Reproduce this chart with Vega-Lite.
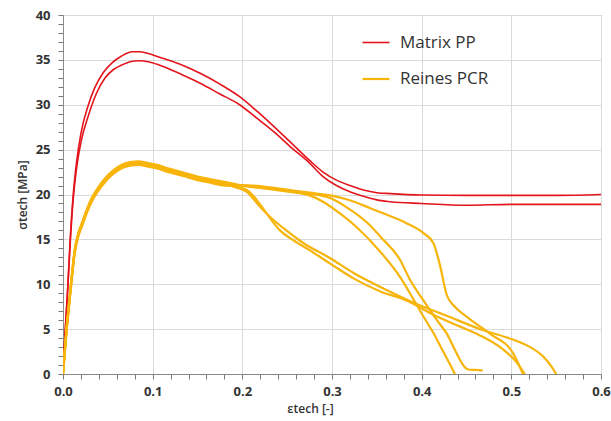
{
  "$schema": "https://vega.github.io/schema/vega-lite/v6.json",
  "width": 538,
  "height": 359,
  "autosize": {"type": "none"},
  "padding": {"left": 63, "top": 15, "right": 10, "bottom": 47},
  "background": "white",
  "config": {
    "view": {"stroke": "#8a8a8a", "strokeWidth": 1},
    "font": "Open Sans"
  },
  "data": {
    "values": [
      {"c": "R1", "g": "Matrix PP",
       "x": [0,0.002,0.005,0.008,0.011,0.015,0.02,0.028,0.035,0.045,0.055,0.065,0.077,0.085,0.095,0.11,0.123,0.136,0.153,0.175,0.197,0.215,0.235,0.255,0.275,0.29,0.305,0.32,0.335,0.35,0.365,0.4,0.45,0.5,0.55,0.6],
       "y": [0,4,9,15,19.5,23.5,26.8,29.9,31.8,33.6,34.7,35.4,35.9,35.9,35.7,35.2,34.8,34.3,33.5,32.3,30.9,29.4,27.6,25.7,23.8,22.5,21.6,21.0,20.5,20.2,20.1,19.95,19.9,19.9,19.9,20.0]},
      {"c": "R2", "g": "Matrix PP",
       "x": [0,0.002,0.005,0.008,0.011,0.015,0.02,0.028,0.037,0.047,0.056,0.065,0.075,0.084,0.095,0.108,0.123,0.136,0.153,0.175,0.197,0.215,0.235,0.255,0.275,0.29,0.305,0.32,0.335,0.35,0.365,0.4,0.45,0.5,0.55,0.6],
       "y": [0,4,9,14.5,19,22.8,25.8,28.7,31.2,33.0,33.9,34.4,34.8,34.9,34.8,34.4,33.8,33.2,32.4,31.2,30.0,28.6,27.0,25.2,23.5,22.0,21.0,20.3,19.8,19.4,19.2,19.0,18.8,18.9,18.9,18.9]},
      {"c": "YA", "g": "Reines PCR",
       "x": [0,0.002,0.004,0.006,0.009,0.013,0.017,0.021,0.026,0.032,0.04,0.047,0.055,0.065,0.075,0.084,0.095,0.105,0.114,0.125,0.136,0.15,0.165,0.18,0.19,0.205,0.22,0.231,0.249,0.268,0.298,0.325,0.354,0.39,0.43,0.468,0.5,0.521,0.535,0.545,0.55],
       "y": [0,2.5,5.1,7.1,10.1,13.7,15.6,16.7,18.1,19.5,20.8,21.7,22.5,23.2,23.5,23.6,23.4,23.2,22.9,22.6,22.3,21.9,21.6,21.3,20.9,20.3,18.6,17.5,16.0,14.6,12.9,11.2,9.7,8.0,6.4,4.9,3.9,3.0,2.0,0.8,0]},
      {"c": "YB", "g": "Reines PCR",
       "x": [0,0.002,0.004,0.006,0.009,0.013,0.017,0.021,0.026,0.032,0.04,0.047,0.055,0.065,0.075,0.084,0.095,0.105,0.114,0.125,0.136,0.15,0.165,0.18,0.19,0.205,0.216,0.227,0.242,0.257,0.275,0.298,0.325,0.354,0.383,0.413,0.44,0.465,0.49,0.506,0.515],
       "y": [0,2.4,4.9,6.9,9.9,13.5,15.4,16.5,17.9,19.3,20.6,21.5,22.3,23.0,23.3,23.4,23.2,23.0,22.7,22.4,22.1,21.7,21.4,21.1,20.9,20.5,19.4,17.9,16.0,14.9,13.8,12.3,10.6,9.2,8.2,6.6,5.4,4.3,2.8,1.3,0]},
      {"c": "YC", "g": "Reines PCR",
       "x": [0,0.002,0.004,0.006,0.009,0.013,0.017,0.021,0.026,0.032,0.04,0.047,0.055,0.065,0.075,0.084,0.095,0.105,0.114,0.125,0.136,0.15,0.165,0.18,0.2,0.231,0.253,0.275,0.29,0.31,0.327,0.354,0.376,0.391,0.402,0.413,0.424,0.432,0.437],
       "y": [0,2.5,5,7,10,13.6,15.5,16.6,18,19.4,20.7,21.6,22.4,23.1,23.4,23.5,23.3,23.1,22.8,22.5,22.2,21.8,21.5,21.2,20.95,20.6,20.3,19.9,19.2,17.8,16.4,13.6,10.8,8.3,6.4,4.6,2.5,1.0,0]},
      {"c": "YD", "g": "Reines PCR",
       "x": [0,0.002,0.004,0.006,0.009,0.013,0.017,0.021,0.026,0.032,0.04,0.047,0.055,0.065,0.075,0.084,0.095,0.105,0.114,0.125,0.136,0.15,0.165,0.18,0.2,0.231,0.253,0.275,0.298,0.316,0.342,0.354,0.376,0.387,0.402,0.417,0.428,0.439,0.447,0.452,0.46,0.467],
       "y": [0,2.6,5.2,7.2,10.2,13.8,15.7,16.8,18.2,19.6,20.9,21.8,22.6,23.3,23.6,23.7,23.5,23.3,23.0,22.7,22.4,22.0,21.7,21.4,21.0,20.7,20.4,20.1,19.6,18.6,16.6,15.3,12.7,10.5,8.2,6.0,4.5,2.3,0.9,0.5,0.45,0.4]},
      {"c": "YE", "g": "Reines PCR",
       "x": [0,0.002,0.004,0.006,0.009,0.013,0.017,0.021,0.026,0.032,0.04,0.047,0.055,0.065,0.075,0.084,0.095,0.105,0.114,0.125,0.136,0.15,0.165,0.18,0.2,0.231,0.253,0.275,0.298,0.315,0.327,0.342,0.357,0.383,0.402,0.413,0.42,0.428,0.436,0.45,0.476,0.502,0.513],
       "y": [0,2.4,4.8,6.8,9.8,13.4,15.3,16.4,17.8,19.2,20.5,21.4,22.2,22.9,23.2,23.3,23.1,22.9,22.6,22.3,22.0,21.6,21.3,21.0,21.05,20.8,20.5,20.2,19.9,19.5,19.1,18.5,17.9,16.8,15.7,14.6,12.3,8.8,7.6,6.4,4.5,2.3,0]}
    ]
  },
  "transform": [{"flatten": ["x", "y"]}],
  "mark": {"type": "line", "clip": true, "interpolate": "monotone", "strokeJoin": "round", "strokeCap": "round"},
  "encoding": {
    "x": {
      "field": "x", "type": "quantitative",
      "scale": {"domain": [0, 0.6], "nice": false, "zero": false},
      "axis": {
        "values": [0,0.02,0.04,0.06,0.08,0.1,0.12,0.14,0.16,0.18,0.2,0.22,0.24,0.26,0.28,0.3,0.32,0.34,0.36,0.38,0.4,0.42,0.44,0.46,0.48,0.5,0.52,0.54,0.56,0.58,0.6],
        "labelExpr": "round(datum.value*50) % 5 == 0 ? format(datum.value, '.1f') : ''",
        "labelOverlap": false,
        "labelFlush": false,
        "grid": true,
        "gridColor": "#dadada",
        "gridOpacity": {"condition": {"test": "round(datum.value*50) % 5 == 0", "value": 1}, "value": 0},
        "tickSize": 5,
        "tickColor": "#7a7a7a",
        "domainColor": "#8a8a8a",
        "labelFont": "Open Sans",
        "labelFontSize": 13,
        "labelFontWeight": 700,
        "labelColor": "#333333",
        "labelPadding": 6,
        "title": "εtech [-]",
        "titleFont": "Open Sans",
        "titleFontSize": 12,
        "titleFontWeight": 600,
        "titleColor": "#333333",
        "titlePadding": 5,
        "titleX": 247
      }
    },
    "y": {
      "field": "y", "type": "quantitative",
      "scale": {"domain": [0, 40], "nice": false},
      "axis": {
        "values": [0,1,2,3,4,5,6,7,8,9,10,11,12,13,14,15,16,17,18,19,20,21,22,23,24,25,26,27,28,29,30,31,32,33,34,35,36,37,38,39,40],
        "labelExpr": "datum.value % 5 == 0 ? format(datum.value, 'd') : ''",
        "labelOverlap": false,
        "labelFlush": false,
        "grid": true,
        "gridColor": "#dadada",
        "gridOpacity": {"condition": {"test": "datum.value % 5 == 0", "value": 1}, "value": 0},
        "tickSize": 5,
        "tickColor": "#7a7a7a",
        "domainColor": "#8a8a8a",
        "labelFont": "Open Sans",
        "labelFontSize": 13,
        "labelFontWeight": 700,
        "labelColor": "#333333",
        "labelPadding": 8,
        "title": "σtech [MPa]",
        "titleFont": "Open Sans",
        "titleFontSize": 12,
        "titleFontWeight": 600,
        "titleColor": "#333333",
        "titlePadding": 6
      }
    },
    "detail": {"field": "c"},
    "color": {
      "field": "g", "type": "nominal",
      "scale": {"domain": ["Matrix PP", "Reines PCR"], "range": ["#e3141c", "#f7b50c"]},
      "legend": {
        "orient": "none",
        "legendX": 298,
        "legendY": 13,
        "title": null,
        "symbolType": "stroke",
        "symbolSize": 729,
        "symbolStrokeWidth": 3,
        "labelFont": "Open Sans",
        "labelFontSize": 17,
        "labelColor": "#333333",
        "labelOffset": 9,
        "rowPadding": 13
      }
    },
    "strokeWidth": {
      "field": "g", "type": "nominal",
      "scale": {"domain": ["Matrix PP", "Reines PCR"], "range": [1.6, 2.2]},
      "legend": null
    }
  }
}
